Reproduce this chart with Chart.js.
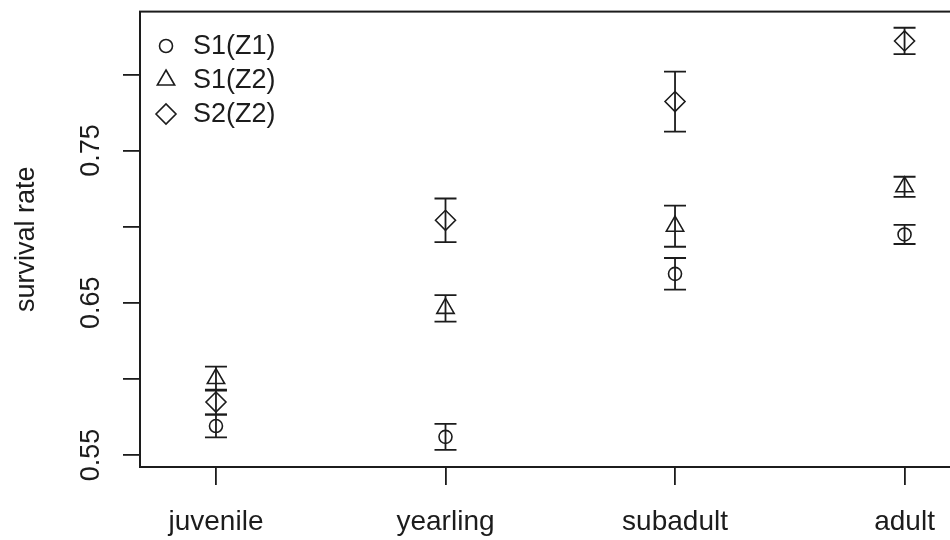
<!DOCTYPE html>
<html>
<head>
<meta charset="utf-8">
<script src="https://cdn.jsdelivr.net/npm/chart.js@4.4.1/dist/chart.umd.min.js"></script>
<style>
  html, body { margin: 0; padding: 0; background: #fff; overflow: hidden; }
  #wrap { width: 950px; height: 540px; overflow: hidden; }
</style>
</head>
<body>
<div id="wrap"><canvas id="chart" width="990" height="540"></canvas></div>
<script>
const stages = ['juvenile', 'yearling', 'subadult', 'adult'];

const s1z1 = [0.5690, 0.5619, 0.6690, 0.6949];
const s1z1Err = [0.0075, 0.0085, 0.0104, 0.0063];
const s1z2 = [0.6002, 0.6463, 0.7003, 0.7262];
const s1z2Err = [0.0079, 0.0087, 0.0135, 0.0066];
const s2z2 = [0.5848, 0.7042, 0.7822, 0.8220];
const s2z2Err = [0.0082, 0.0143, 0.0197, 0.0087];

const yTicks = [0.55, 0.60, 0.65, 0.70, 0.75, 0.80];
const yLabels = ['0.55', '0.65', '0.75'];

const ink = '#1c1c1c';
const fontFamily = '"Liberation Sans", Arial, Helvetica, sans-serif';
const fontSize = 27;

const series = [
  { label: 'S1(Z1)', values: s1z1, errors: s1z1Err, style: 'circle', radius: 6.5 },
  { label: 'S1(Z2)', values: s1z2, errors: s1z2Err, style: 'triangle', radius: 10 },
  { label: 'S2(Z2)', values: s2z2, errors: s2z2Err, style: 'rectRot', radius: 10 }
];

// box around the plot region, R style
const framePlugin = {
  id: 'frame',
  afterDraw(chart) {
    const { ctx, chartArea: a } = chart;
    ctx.save();
    ctx.strokeStyle = ink;
    ctx.lineWidth = 2;
    ctx.strokeRect(a.left, a.top, a.right - a.left, a.bottom - a.top);
    ctx.restore();
  }
};

const errorBarPlugin = {
  id: 'errorBars',
  afterDatasetsDraw(chart) {
    const { ctx, scales } = chart;
    ctx.save();
    ctx.strokeStyle = ink;
    ctx.lineWidth = 1.8;
    chart.data.datasets.forEach(ds => {
      ds.data.forEach(p => {
        const x = scales.x.getPixelForValue(p.x);
        const yHi = scales.y.getPixelForValue(p.y + p.err);
        const yLo = scales.y.getPixelForValue(p.y - p.err);
        ctx.beginPath();
        ctx.moveTo(x, yHi); ctx.lineTo(x, yLo);
        ctx.moveTo(x - 11, yHi); ctx.lineTo(x + 11, yHi);
        ctx.moveTo(x - 11, yLo); ctx.lineTo(x + 11, yLo);
        ctx.stroke();
      });
    });
    ctx.restore();
  }
};

// y tick labels drawn parallel to the axis
const yLabelPlugin = {
  id: 'yLabels',
  afterDraw(chart) {
    const { ctx, scales } = chart;
    ctx.save();
    ctx.fillStyle = ink;
    ctx.font = fontSize + 'px ' + fontFamily;
    ctx.textAlign = 'center';
    ctx.textBaseline = 'middle';
    yLabels.forEach(t => {
      const y = scales.y.getPixelForValue(parseFloat(t));
      ctx.save();
      ctx.translate(92, y);
      ctx.rotate(-Math.PI / 2);
      ctx.fillText(t, 0, 0);
      ctx.restore();
    });
    ctx.restore();
  }
};

const legendPlugin = {
  id: 'rLegend',
  afterDraw(chart) {
    const { ctx } = chart;
    ctx.save();
    ctx.font = fontSize + 'px ' + fontFamily;
    ctx.textBaseline = 'middle';
    ctx.textAlign = 'left';
    chart.data.datasets.forEach((ds, i) => {
      const y = 46 + i * 34;
      ctx.strokeStyle = ink;
      ctx.fillStyle = 'rgba(0,0,0,0)';
      ctx.lineWidth = 1.6;
      Chart.helpers.drawPoint(ctx, { pointStyle: ds.pointStyle, radius: ds.pointRadius, borderWidth: 1.6, rotation: 0 }, 166, y);
      ctx.fillStyle = ink;
      ctx.fillText(ds.label, 193, y + 1);
    });
    ctx.restore();
  }
};

new Chart(document.getElementById('chart'), {
  type: 'scatter',
  data: {
    datasets: series.map(s => ({
      label: s.label,
      data: s.values.map((v, i) => ({ x: i + 1, y: v, err: s.errors[i] })),
      pointStyle: s.style,
      pointRadius: s.radius,
      pointBorderWidth: 1.6,
      pointBorderColor: ink,
      pointBackgroundColor: 'rgba(0,0,0,0)',
      showLine: false
    }))
  },
  options: {
    responsive: false,
    devicePixelRatio: 1,
    animation: false,
    events: [],
    layout: { padding: { top: 10, right: 12, left: 0, bottom: 0 } },
    plugins: { legend: { display: false }, tooltip: { enabled: false } },
    scales: {
      x: {
        type: 'linear',
        min: 0.669,
        max: 4.32,
        afterBuildTicks: s => { s.ticks = stages.map((_, i) => ({ value: i + 1 })); },
        afterFit: s => { s.height = 73; },
        border: { display: false },
        grid: { drawOnChartArea: false, drawTicks: true, tickLength: 18, color: ink, lineWidth: 1.8 },
        ticks: {
          color: ink,
          font: { family: fontFamily, size: 28 },
          padding: 20,
          maxRotation: 0,
          autoSkip: false,
          callback: v => stages[Math.round(v) - 1]
        }
      },
      y: {
        min: 0.5421,
        max: 0.8413,
        afterBuildTicks: s => { s.ticks = yTicks.map(v => ({ value: v })); },
        afterFit: s => { s.width = 140; },
        border: { display: false },
        grid: { drawOnChartArea: false, drawTicks: true, tickLength: 17, color: ink, lineWidth: 1.8 },
        ticks: { display: false },
        title: {
          display: true,
          text: 'survival rate',
          color: ink,
          font: { family: fontFamily, size: fontSize },
          padding: { top: 10, bottom: 0 }
        }
      }
    }
  },
  plugins: [framePlugin, errorBarPlugin, yLabelPlugin, legendPlugin]
});
</script>
</body>
</html>
